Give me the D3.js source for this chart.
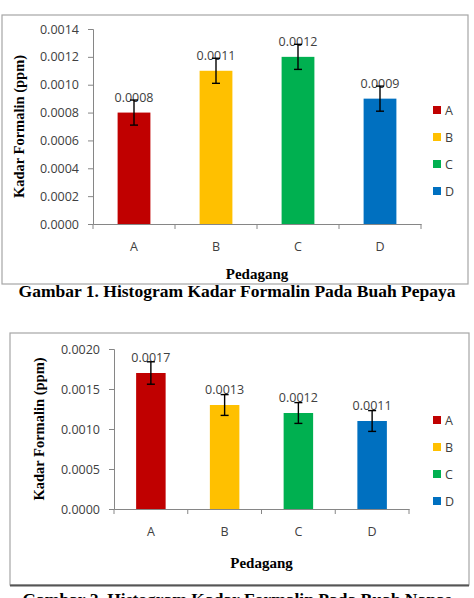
<!DOCTYPE html>
<html>
<head>
<meta charset="utf-8">
<script src="https://cdn.jsdelivr.net/npm/d3@7"></script>
<style>
  body { margin: 0; background: #fff; }
</style>
</head>
<body>
<script>
// ----- Data ----- //
const pedagang = ["A", "B", "C", "D"];
const barColors = ["#C00000", "#FFC000", "#00B050", "#0070C0"];

const pepayaValues = [0.0008, 0.0011, 0.0012, 0.0009];
const pepayaErrors = [0.00009, 0.00009, 0.00009, 0.00009];
const pepayaTicks = [0, 0.0002, 0.0004, 0.0006, 0.0008, 0.0010, 0.0012, 0.0014];

const nanasValues = [0.0017, 0.0013, 0.0012, 0.0011];
const nanasErrors = [0.00014, 0.00013, 0.00013, 0.00013];
const nanasTicks = [0, 0.0005, 0.0010, 0.0015, 0.0020];

const svg = d3.select("body").append("svg")
    .attr("width", 474)
    .attr("height", 598);

const sans = "'Open Sans', 'Liberation Sans', sans-serif";
const serif = "'Liberation Serif', 'DejaVu Serif', serif";

// ----- Function to draw one chart ----- //
function drawChart(opt) {
    const g = svg.append("g");

    // frame
    g.append("rect")
        .attr("x", opt.frame[0]).attr("y", opt.frame[1])
        .attr("width", opt.frame[2]).attr("height", opt.frame[3])
        .attr("fill", "none").attr("stroke", "#a6a6a6").attr("stroke-width", 1.2);
    if (opt.darkBottom) {
        g.append("line")
            .attr("x1", opt.frame[0]).attr("x2", opt.frame[0] + opt.frame[2])
            .attr("y1", opt.frame[1] + opt.frame[3] + 0.5).attr("y2", opt.frame[1] + opt.frame[3] + 0.5)
            .attr("stroke", "#555").attr("stroke-width", 2);
    }

    const x = d3.scaleBand()
        .domain(pedagang)
        .range([opt.left, opt.right])
        .paddingInner(0.6)
        .paddingOuter(0.3);

    const y = d3.scaleLinear()
        .domain([0, opt.max])
        .range([opt.bottom, opt.top]);

    // Y axis
    const axeY = d3.axisLeft(y)
        .tickValues(opt.ticks)
        .tickFormat(d3.format(".4f"))
        .tickSize(5)
        .tickPadding(9);
    const gy = g.append("g")
        .attr("transform", `translate(${opt.left},0)`)
        .call(axeY);
    gy.selectAll("path, line").attr("stroke", "#868686");
    gy.selectAll("text")
        .style("font-family", sans).style("font-size", "12.5px").attr("fill", "#404040");

    // X axis
    const axeX = d3.axisBottom(x).tickSize(0).tickPadding(18);
    const gx = g.append("g")
        .attr("transform", `translate(0,${opt.bottom})`)
        .call(axeX);
    gx.select("path").attr("stroke", "#868686");
    gx.selectAll("text")
        .style("font-family", sans).style("font-size", "12.5px").attr("fill", "#404040");
    const step = (opt.right - opt.left) / pedagang.length;
    gx.selectAll("line.sep")
        .data(d3.range(pedagang.length + 1))
        .enter().append("line")
        .attr("class", "sep")
        .attr("x1", i => opt.left + i * step).attr("x2", i => opt.left + i * step)
        .attr("y1", 0).attr("y2", 5)
        .attr("stroke", "#868686");

    // bars
    g.selectAll("rect.bar")
        .data(opt.values)
        .enter().append("rect")
        .attr("class", "bar")
        .attr("x", (d, i) => x(pedagang[i]))
        .attr("y", d => y(d))
        .attr("width", x.bandwidth())
        .attr("height", d => opt.bottom - y(d))
        .attr("fill", (d, i) => barColors[i]);

    // value labels
    g.selectAll("text.val")
        .data(opt.values)
        .enter().append("text")
        .attr("class", "val")
        .attr("x", (d, i) => x(pedagang[i]) + x.bandwidth() / 2)
        .attr("y", d => y(d) - 11)
        .attr("text-anchor", "middle")
        .style("font-family", sans).style("font-size", "12.5px")
        .attr("fill", "#404040")
        .text(d => d.toFixed(4));

    // error bars
    const err = g.selectAll("g.err")
        .data(opt.values)
        .enter().append("g")
        .attr("class", "err")
        .attr("stroke", "#000").attr("stroke-width", 1.4);
    err.append("line")
        .attr("x1", (d, i) => x(pedagang[i]) + x.bandwidth() / 2)
        .attr("x2", (d, i) => x(pedagang[i]) + x.bandwidth() / 2)
        .attr("y1", (d, i) => y(d + opt.errors[i]))
        .attr("y2", (d, i) => y(d - opt.errors[i]));
    [1, -1].forEach(s => {
        err.append("line")
            .attr("x1", (d, i) => x(pedagang[i]) + x.bandwidth() / 2 - 4)
            .attr("x2", (d, i) => x(pedagang[i]) + x.bandwidth() / 2 + 4)
            .attr("y1", (d, i) => y(d + s * opt.errors[i]))
            .attr("y2", (d, i) => y(d + s * opt.errors[i]));
    });

    // axis titles
    g.append("text")
        .attr("x", (opt.left + opt.right) / 2)
        .attr("y", opt.xTitleY)
        .attr("text-anchor", "middle")
        .style("font-family", serif).style("font-weight", "bold").style("font-size", "15px")
        .text("Pedagang");
    g.append("text")
        .attr("transform", `translate(${opt.yTitleX},${(opt.top + opt.bottom) / 2}) rotate(-90)`)
        .attr("text-anchor", "middle")
        .style("font-family", serif).style("font-weight", "bold").style("font-size", "14.5px")
        .text("Kadar Formalin (ppm)");

    // legend
    const leg = g.selectAll("g.leg")
        .data(pedagang)
        .enter().append("g")
        .attr("class", "leg")
        .attr("transform", (d, i) => `translate(433,${opt.legendY + i * 27})`);
    leg.append("rect")
        .attr("x", 0).attr("y", -4).attr("width", 8).attr("height", 8)
        .attr("fill", (d, i) => barColors[i]);
    leg.append("text")
        .attr("x", 12).attr("y", 4.5)
        .style("font-family", sans).style("font-size", "12.5px").attr("fill", "#404040")
        .text(d => d);

    // caption
    g.append("text")
        .attr("x", 237)
        .attr("y", opt.captionY)
        .attr("text-anchor", "middle")
        .style("font-family", serif).style("font-weight", "bold").style("font-size", "17.5px")
        .text(opt.caption);
}

drawChart({
    frame: [2, 15, 466, 269],
    left: 93, right: 421, top: 29, bottom: 224,
    max: 0.0014, ticks: pepayaTicks,
    values: pepayaValues, errors: pepayaErrors,
    xTitleY: 279, yTitleX: 24, legendY: 110,
    captionY: 297,
    caption: "Gambar 1. Histogram Kadar Formalin Pada Buah Pepaya"
});

drawChart({
    frame: [10, 333, 459, 252],
    left: 114, right: 409, top: 349, bottom: 509,
    max: 0.0020, ticks: nanasTicks,
    values: nanasValues, errors: nanasErrors,
    xTitleY: 568, yTitleX: 44, legendY: 420,
    captionY: 605, darkBottom: true,
    caption: "Gambar 2. Histogram Kadar Formalin Pada Buah Nanas"
});
</script>
</body>
</html>
